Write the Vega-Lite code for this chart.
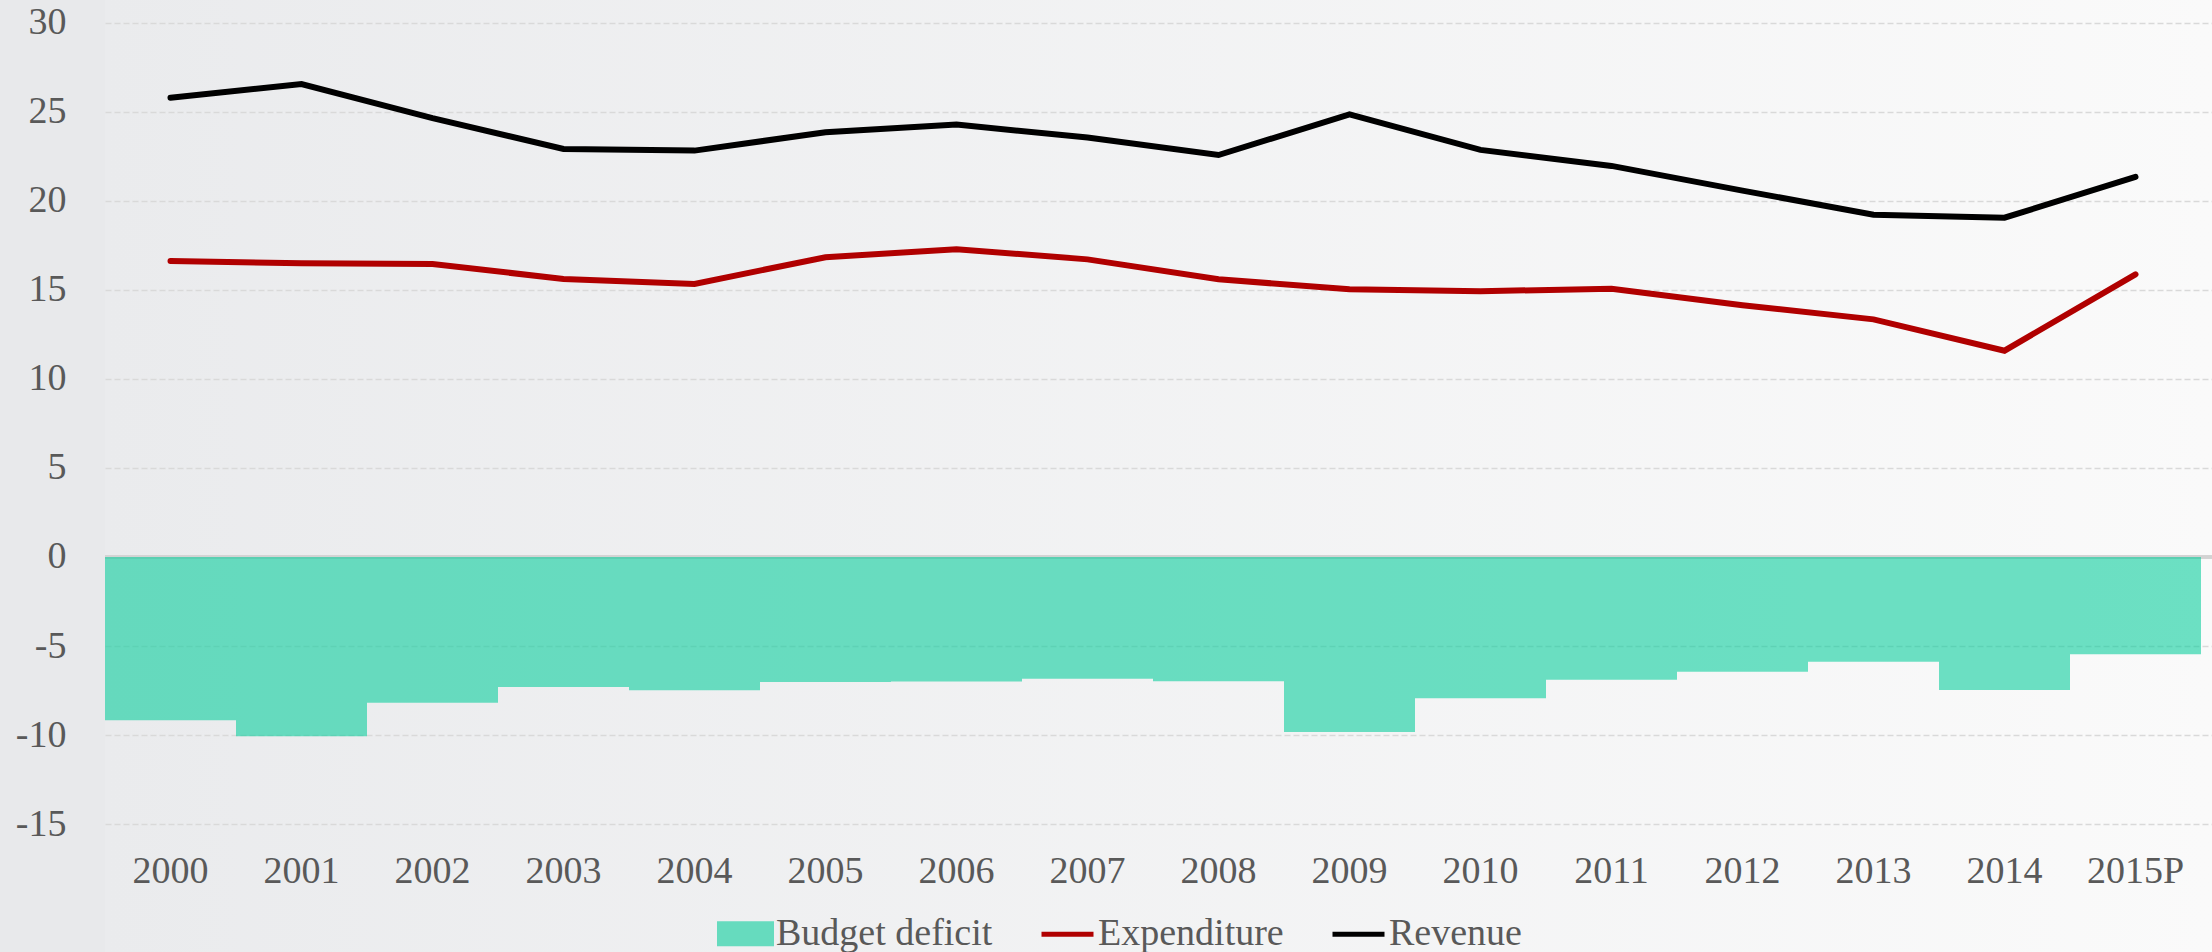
{
  "$schema": "https://vega.github.io/schema/vega-lite/v6.json",
  "width": 2107,
  "height": 952,
  "autosize": {"type": "none"},
  "padding": {"left": 105, "top": 0, "right": 0, "bottom": 0},
  "background": "#e8e9eb",
  "view": {
    "stroke": null,
    "fill": {
      "gradient": "linear", "x1": 0, "y1": 0, "x2": 1, "y2": 0,
      "stops": [{"offset": 0, "color": "#eaebed"}, {"offset": 1, "color": "#fafafa"}]
    }
  },
  "config": {"font": "Liberation Serif"},
  "data": {
    "values": [
      {"year": "2000", "series": "Revenue", "value": 25.8},
      {"year": "2001", "series": "Revenue", "value": 26.57},
      {"year": "2002", "series": "Revenue", "value": 24.65},
      {"year": "2003", "series": "Revenue", "value": 22.92},
      {"year": "2004", "series": "Revenue", "value": 22.83},
      {"year": "2005", "series": "Revenue", "value": 23.86},
      {"year": "2006", "series": "Revenue", "value": 24.29},
      {"year": "2007", "series": "Revenue", "value": 23.56},
      {"year": "2008", "series": "Revenue", "value": 22.58},
      {"year": "2009", "series": "Revenue", "value": 24.87},
      {"year": "2010", "series": "Revenue", "value": 22.87},
      {"year": "2011", "series": "Revenue", "value": 21.97},
      {"year": "2012", "series": "Revenue", "value": 20.58},
      {"year": "2013", "series": "Revenue", "value": 19.23},
      {"year": "2014", "series": "Revenue", "value": 19.06},
      {"year": "2015P", "series": "Revenue", "value": 21.35},
      {"year": "2000", "series": "Expenditure", "value": 16.63},
      {"year": "2001", "series": "Expenditure", "value": 16.5},
      {"year": "2002", "series": "Expenditure", "value": 16.46},
      {"year": "2003", "series": "Expenditure", "value": 15.62},
      {"year": "2004", "series": "Expenditure", "value": 15.34},
      {"year": "2005", "series": "Expenditure", "value": 16.84},
      {"year": "2006", "series": "Expenditure", "value": 17.29},
      {"year": "2007", "series": "Expenditure", "value": 16.72},
      {"year": "2008", "series": "Expenditure", "value": 15.6},
      {"year": "2009", "series": "Expenditure", "value": 15.04},
      {"year": "2010", "series": "Expenditure", "value": 14.93},
      {"year": "2011", "series": "Expenditure", "value": 15.07},
      {"year": "2012", "series": "Expenditure", "value": 14.14},
      {"year": "2013", "series": "Expenditure", "value": 13.35},
      {"year": "2014", "series": "Expenditure", "value": 11.59},
      {"year": "2015P", "series": "Expenditure", "value": 15.88},
      {"year": "2000", "series": "Budget deficit", "value": -9.17},
      {"year": "2001", "series": "Budget deficit", "value": -10.07},
      {"year": "2002", "series": "Budget deficit", "value": -8.19},
      {"year": "2003", "series": "Budget deficit", "value": -7.3},
      {"year": "2004", "series": "Budget deficit", "value": -7.49},
      {"year": "2005", "series": "Budget deficit", "value": -7.02},
      {"year": "2006", "series": "Budget deficit", "value": -7.0},
      {"year": "2007", "series": "Budget deficit", "value": -6.84},
      {"year": "2008", "series": "Budget deficit", "value": -6.98},
      {"year": "2009", "series": "Budget deficit", "value": -9.83},
      {"year": "2010", "series": "Budget deficit", "value": -7.94},
      {"year": "2011", "series": "Budget deficit", "value": -6.9},
      {"year": "2012", "series": "Budget deficit", "value": -6.44},
      {"year": "2013", "series": "Budget deficit", "value": -5.88},
      {"year": "2014", "series": "Budget deficit", "value": -7.47},
      {"year": "2015P", "series": "Budget deficit", "value": -5.47}
    ]
  },
  "layer": [
    {
      "mark": {"type": "rule", "color": "#d3d3d3", "strokeWidth": 3},
      "encoding": {"y": {"datum": 0, "type": "quantitative"}}
    },
    {
      "transform": [{"filter": "datum.series === 'Budget deficit'"}],
      "mark": {"type": "bar", "opacity": 0.57},
      "encoding": {
        "x": {
          "field": "year", "type": "ordinal", "sort": null,
          "scale": {"paddingInner": 0, "paddingOuter": 0.0305, "align": 0, "round": true},
          "axis": {
            "title": null, "domain": false, "ticks": false, "tickSize": 0, "grid": false,
            "labelAngle": 0, "labelFont": "Liberation Serif", "labelFontSize": 38,
            "labelColor": "#595959", "labelPadding": -81, "labelBaseline": "middle"
          }
        },
        "y": {
          "field": "value", "type": "quantitative",
          "scale": {"domain": [-22.19, 31.29], "nice": false, "zero": false},
          "axis": {
            "title": null, "domain": false, "ticks": false, "tickSize": 0,
            "values": [-15, -10, -5, 0, 5, 10, 15, 20, 25, 30],
            "labelExpr": "'' + datum.value",
            "grid": true, "gridDash": [6, 3], "gridColor": "#d9d9d9", "gridWidth": 1.3,
            "labelFont": "Liberation Serif", "labelFontSize": 38, "labelColor": "#595959",
            "labelPadding": 39
          }
        },
        "y2": {"datum": 0},
        "color": {
          "field": "series", "type": "nominal",
          "scale": {"domain": ["Budget deficit", "Expenditure", "Revenue"], "range": ["#00cc99", "#b00000", "#000000"]},
          "legend": {
            "orient": "none", "legendX": 612, "legendY": 905, "direction": "horizontal",
            "title": null, "padding": 0, "labelLimit": 0,
            "labelFont": "Liberation Serif", "labelFontSize": 38, "labelColor": "#595959",
            "symbolSize": 2704, "labelOffset": 2, "columnPadding": 38, "symbolStrokeWidth": 5,
            "encode": {
              "symbols": {
                "update": {
                  "shape": {"signal": "datum.value === 'Budget deficit' ? 'M-1,-0.385H1V0.385H-1Z' : 'stroke'"},
                  "fill": {"signal": "datum.value === 'Budget deficit' ? '#00cc99' : 'transparent'"},
                  "stroke": {"signal": "datum.value === 'Budget deficit' ? 'transparent' : (datum.value === 'Expenditure' ? '#b00000' : '#000000')"},
                  "opacity": {"signal": "datum.value === 'Budget deficit' ? 0.57 : 1"},
                  "strokeWidth": {"value": 5}
                }
              }
            }
          }
        }
      }
    },
    {
      "transform": [{"filter": "datum.series !== 'Budget deficit'"}],
      "mark": {"type": "line", "strokeWidth": 6, "strokeCap": "round"},
      "encoding": {
        "x": {"field": "year", "type": "ordinal", "sort": null},
        "y": {"field": "value", "type": "quantitative"},
        "color": {
          "field": "series", "type": "nominal",
          "legend": {
            "orient": "none", "legendX": 612, "legendY": 905, "direction": "horizontal",
            "title": null, "padding": 0, "labelLimit": 0,
            "labelFont": "Liberation Serif", "labelFontSize": 38, "labelColor": "#595959",
            "symbolSize": 2704, "labelOffset": 2, "columnPadding": 38, "symbolStrokeWidth": 5,
            "encode": {
              "symbols": {
                "update": {
                  "shape": {"signal": "datum.value === 'Budget deficit' ? 'M-1,-0.385H1V0.385H-1Z' : 'stroke'"},
                  "fill": {"signal": "datum.value === 'Budget deficit' ? '#00cc99' : 'transparent'"},
                  "stroke": {"signal": "datum.value === 'Budget deficit' ? 'transparent' : (datum.value === 'Expenditure' ? '#b00000' : '#000000')"},
                  "opacity": {"signal": "datum.value === 'Budget deficit' ? 0.57 : 1"},
                  "strokeWidth": {"value": 5}
                }
              }
            }
          }
        }
      }
    }
  ]
}
